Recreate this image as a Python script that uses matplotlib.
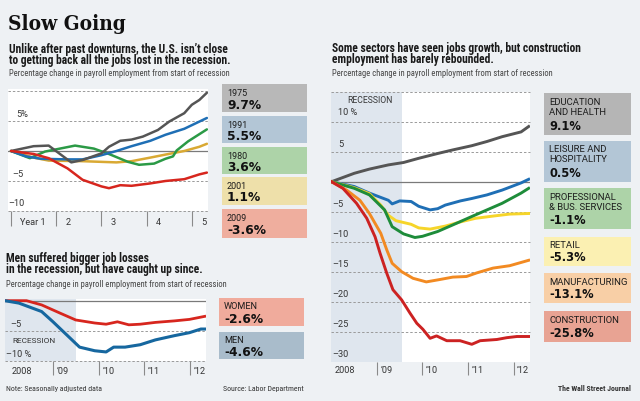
import os
import matplotlib
matplotlib.use('Agg')
import matplotlib.pyplot as plt
import matplotlib.font_manager as fm
import matplotlib.transforms as mtrans
from matplotlib.patches import Rectangle

# ---------------- DATA ----------------
# Top-left: months since start of each recession, % change
m1975 = [0, 6, 10, 16, 19, 24, 26, 29, 32, 35, 39, 42, 46, 48, 50, 52]
v1975 = [0, 0.8, 0.9, -1.9, -1.5, -0.4, 0.7, 1.7, 1.9, 2.4, 3.5, 4.9, 6.3, 7.7, 8.5, 9.7]
m1991 = [0, 4, 8, 15, 19, 24, 28, 32, 37, 41, 46, 50, 52]
v1991 = [0, -0.9, -1.3, -1.4, -1.4, -0.7, 0, 0.8, 1.7, 2.7, 3.7, 4.9, 5.5]
m1980 = [0, 5, 9, 13, 17, 22, 26, 31, 34, 38, 41, 43, 44, 47, 50, 52]
v1980 = [0, -1.2, -0.1, 0.4, 0.9, 0.4, -0.5, -1.8, -2.3, -2.1, -1.3, -0.9, 0.1, 1.6, 2.8, 3.6]
m2001 = [0, 6, 10, 19, 28, 32, 37, 41, 46, 50, 52]
v2001 = [0, -1.1, -1.6, -1.7, -1.9, -1.7, -1.1, -0.6, 0, 0.7, 1.2]
m2009 = [0, 6, 10, 15, 19, 24, 26, 29, 32, 37, 41, 46, 50, 52]
v2009 = [0, -0.5, -1.2, -2.9, -4.8, -5.9, -6.2, -5.7, -5.8, -5.4, -5.0, -4.7, -3.9, -3.6]
tl_years = ['Year 1', '2', '3', '4', '5']
tl_boxes = [('1975', '9.7%'), ('1991', '5.5%'), ('1980', '3.6%'), ('2001', '1.1%'), ('2009', '-3.6%')]

# Bottom-left: months since Jan 2008
mWomen = [-0.7, 5, 9, 14, 18, 23, 26, 29, 32, 35, 39, 44, 48, 52]
vWomen = [0, 0, -0.7, -2.1, -3.2, -3.7, -3.9, -3.5, -4.0, -3.9, -3.6, -3.35, -3.1, -2.6]
mMen = [-0.7, 3, 9, 12, 16, 19, 23, 26, 28, 31, 35, 39, 44, 48, 51, 52]
vMen = [0, -0.4, -1.8, -3.5, -5.9, -7.7, -8.3, -8.5, -7.7, -7.7, -7.3, -6.5, -5.8, -5.3, -4.7, -4.7]
bl_boxes = [('WOMEN', '-2.6%'), ('MEN', '-4.6%')]

# Right: months since Jan 2008
mEdu = [0, 6, 10, 15, 19, 23, 28, 32, 37, 41, 45, 50, 52]
vEdu = [0, 1.4, 2.1, 2.8, 3.2, 3.9, 4.7, 5.3, 6.0, 6.7, 7.5, 8.3, 9.2]
mLei = [0, 6, 10, 15, 16, 18, 21, 23, 26, 28, 30, 34, 37, 41, 45, 50, 52]
vLei = [0, -0.8, -1.9, -3.1, -3.7, -3.2, -3.3, -4.1, -4.7, -4.5, -3.9, -3.2, -2.8, -2.2, -1.4, -0.2, 0.4]
mPro = [0, 6, 10, 14, 16, 19, 22, 24, 28, 32, 37, 41, 45, 50, 52]
vPro = [0, -1.1, -2.2, -4.7, -7.5, -8.7, -9.3, -9.1, -8.3, -7.2, -5.8, -4.7, -3.6, -1.9, -1.1]
mRet = [0, 6, 10, 13, 15, 17, 21, 23, 26, 30, 34, 38, 43, 47, 52]
vRet = [0, -1.0, -2.0, -3.9, -5.6, -6.5, -7.1, -7.7, -7.9, -7.4, -6.7, -6.1, -5.7, -5.4, -5.3]
mMfg = [0, 4, 7.5, 10, 13, 14.6, 16, 18.5, 21.5, 25, 28.6, 32, 35.6, 38.3, 42.6, 47, 52]
vMfg = [0, -1.4, -3.1, -5.3, -8.6, -11.4, -13.6, -15.0, -16.1, -16.7, -16.3, -15.9, -15.8, -15.2, -14.4, -14.0, -13.1]
mCon = [0, 3, 6.6, 9.3, 11.5, 12.8, 14.6, 16.2, 18.5, 20.7, 22.5, 24.1, 26, 27.7, 30.4, 33.9, 37, 39.2, 43.6, 46.2, 48.9, 52]
vCon = [0, -1.1, -3.6, -6.1, -9.2, -11.9, -15.3, -18.0, -19.7, -21.9, -23.6, -24.6, -26.1, -25.7, -26.5, -26.5, -27.1, -26.5, -26.3, -26.0, -25.8, -25.8]
date_labels = ['2008', '\u201909', '\u201910', '\u201911', '\u201912']
r_boxes = [(['EDUCATION', 'AND HEALTH'], '9.1%'), (['LEISURE AND', 'HOSPITALITY'], '0.5%'),
           (['PROFESSIONAL', '& BUS. SERVICES'], '-1.1%'), (['RETAIL'], '-5.3%'),
           (['MANUFACTURING'], '-13.1%'), (['CONSTRUCTION'], '-25.8%')]

# ---------------- STYLE ----------------
W, H = 640, 401
BG = '#eef1f4'
SHADE = '#dfe6ee'
GRID = '#9a9a9a'
ZERO = '#7a7a7a'
TICK = '#8a8a8a'
TXT = '#1a1a1a'
SUB = '#444444'
LBL = '#333333'


def font_file(cands):
    files = {}
    for f in fm.fontManager.ttflist:
        files.setdefault(os.path.splitext(os.path.basename(f.fname))[0].lower(), f.fname)
    for c in cands:
        if c.lower() in files:
            return files[c.lower()]
    return None


def fprop(cands, family, weight):
    p = font_file(cands)
    if p:
        return fm.FontProperties(fname=p)
    return fm.FontProperties(family=family, weight=weight)


F_HEAD = fprop(['RobotoCondensed-Bold', 'LiberationSansNarrow-Bold', 'DejaVuSansCondensed-Bold',
                'Roboto-Bold', 'DejaVuSans-Bold'], 'DejaVu Sans', 'bold')
F_SUBT = fprop(['RobotoCondensed-Regular', 'LiberationSansNarrow-Regular', 'DejaVuSansCondensed',
                'Roboto-Regular', 'DejaVuSans'], 'DejaVu Sans', 'normal')
F_LAB = fprop(['Roboto-Regular', 'OpenSans-Regular', 'DejaVuSans'], 'DejaVu Sans', 'normal')
F_VAL = fprop(['DejaVuSans-Bold'], 'DejaVu Sans', 'bold')
F_SERIF = fprop(['DejaVuSerifCondensed-Bold', 'DejaVuSerif-Bold', 'LiberationSerif-Bold'],
                'DejaVu Serif', 'bold')

fig = plt.figure(figsize=(W / 100, H / 100), dpi=100, facecolor=BG)
renderer = fig.canvas.get_renderer()


def sized(p, s):
    q = p.copy()
    q.set_size(s)
    return q


def fit_size(s, width, prop):
    t = fig.text(0, 0, s, fontproperties=sized(prop, 10))
    w = t.get_window_extent(renderer).width
    t.remove()
    return 10.0 * width / w


def ftext(x, y, s, prop, size, color=TXT, ha='left'):
    fig.text(x / W, 1 - y / H, s, fontproperties=sized(prop, size), color=color,
             ha=ha, va='baseline')


def fit_text(x, y, s, width, prop, color=TXT, ha='left'):
    ftext(x, y, s, prop, fit_size(s, width, prop), color, ha)


def add_ax(x0, y0, x1, y1, xlim, ylim):
    ax = fig.add_axes([x0 / W, 1 - y1 / H, (x1 - x0) / W, (y1 - y0) / H])
    ax.set_facecolor('white')
    for s in ax.spines.values():
        s.set_visible(False)
    ax.set_xlim(*xlim)
    ax.set_ylim(*ylim)
    ax.set_yticks([])
    return ax


def grid(ax, levels):
    for v in levels:
        ax.axhline(v, color=GRID, lw=0.7, ls=(0, (2.5, 2)), zorder=1, clip_on=False)
    ax.axhline(0, color=ZERO, lw=0.9, zorder=1.5)


def atext(ax, trans, x, y, s, dx, dy, prop, size, color=LBL):
    tr = mtrans.offset_copy(trans, fig=fig, x=dx, y=dy, units='dots')
    ax.text(x, y, s, transform=tr, fontproperties=sized(prop, size), color=color,
            ha='left', va='baseline', clip_on=False)


def box(x0, y0, x1, y1, color):
    fig.add_artist(Rectangle((x0 / W, 1 - y1 / H), (x1 - x0) / W, (y1 - y0) / H,
                             transform=fig.transFigure, facecolor=color, edgecolor='none'))


S_TICK = min(6.6, fit_size('2008', 21.5, F_LAB))
S_HEAD = fit_size('Some sectors have seen jobs growth, but construction', 250, F_HEAD)
S_SUBT = fit_size('Percentage change in payroll employment from start of recession', 222, F_SUBT)

# ---------------- HEADINGS ----------------
fit_text(8, 30, 'Slow Going', 118, F_SERIF, '#111111')
ftext(9, 52.5, 'Unlike after past downturns, the U.S. isn\u2019t close', F_HEAD, S_HEAD)
ftext(9, 64, 'to getting back all the jobs lost in the recession.', F_HEAD, S_HEAD)
ftext(9, 75.5, 'Percentage change in payroll employment from start of recession', F_SUBT, S_SUBT, SUB)
ftext(332, 52, 'Some sectors have seen jobs growth, but construction', F_HEAD, S_HEAD)
ftext(332, 63.5, 'employment has barely rebounded.', F_HEAD, S_HEAD)
ftext(332, 76, 'Percentage change in payroll employment from start of recession', F_SUBT, S_SUBT, SUB)
ftext(6, 262, 'Men suffered bigger job losses', F_HEAD, S_HEAD)
ftext(6, 273.5, 'in the recession, but have caught up since.', F_HEAD, S_HEAD)
ftext(6, 287, 'Percentage change in payroll employment from start of recession', F_SUBT, S_SUBT, SUB)
fit_text(6, 391, 'Note: Seasonally adjusted data', 95, F_SUBT, LBL)
fit_text(304, 391, 'Source: Labor Department', 80, F_SUBT, LBL, ha='right')
fit_text(631, 391, 'The Wall Street Journal', 73, F_HEAD, LBL, ha='right')

# ---------------- TOP-LEFT CHART ----------------
ax1 = add_ax(8, 89, 208, 211, (-0.8, 52.3), (-10, 10.33))
grid(ax1, [10, 5, -5, -10])
for m, v, c in [(m2001, v2001, '#d9a933'), (m1980, v1980, '#2b9a46'), (m1991, v1991, '#1f6fb5'),
                (m1975, v1975, '#555555'), (m2009, v2009, '#d7261e')]:
    ax1.plot(m, v, color=c, lw=1.8, zorder=3, solid_joinstyle='round', solid_capstyle='round')
tl_ticks = [0, 12, 24, 36, 48]
ax1.set_xticks(tl_ticks)
ax1.tick_params(axis='x', length=11, width=0.8, color=TICK, labelbottom=False, direction='out')
for t, lab in zip(tl_ticks, tl_years):
    atext(ax1, ax1.get_xaxis_transform(), t, 0, lab, 9, -14, F_LAB, S_TICK)
yt = ax1.get_yaxis_transform()
atext(ax1, yt, 0, 5, '5%', 8, 4, F_LAB, S_TICK)
atext(ax1, yt, 0, -5, '\u20135', 4, 4, F_LAB, S_TICK)
atext(ax1, yt, 0, -10, '\u201310', 0, 5, F_LAB, S_TICK)

S_VAL_L = fit_size('9.7%', 34, F_VAL)
S_LAB_L = fit_size('1975', 20, F_LAB)
tl_spans = [(84, 112), (116, 143), (147, 174), (177, 205), (209, 238)]
tl_cols = ['#b8b8b8', '#b3c6d6', '#add3a8', '#eee0aa', '#efae9e']
for (lab, val), (y0, y1), c in zip(tl_boxes, tl_spans, tl_cols):
    box(222, y0, 307, y1, c)
    ftext(227, y0 + 12, lab, F_LAB, S_LAB_L)
    ftext(227, y0 + 24.5, val, F_VAL, S_VAL_L, '#111111')

# ---------------- BOTTOM-LEFT CHART ----------------
ax2 = add_ax(5, 299, 206, 361.3, (-0.66, 52.35), (-10.05, 0.28))
ax2.axvspan(-1, 18, color=SHADE, zorder=0, lw=0)
grid(ax2, [-5, -10])
ax2.plot(mWomen, vWomen, color='#d7261e', lw=2.0, zorder=3, solid_joinstyle='round')
ax2.plot(mMen, vMen, color='#16679f', lw=2.2, zorder=3, solid_joinstyle='round')
ax2.set_xticks([12, 24, 36, 48])
ax2.tick_params(axis='x', length=10, width=0.8, color=TICK, labelbottom=False, direction='out')
for t, lab in zip([0, 12, 24, 36, 48], date_labels):
    atext(ax2, ax2.get_xaxis_transform(), t, 0, lab, 4, -13, F_LAB, S_TICK)
yt = ax2.get_yaxis_transform()
atext(ax2, yt, 0, -5, '\u20135', 5, 4.3, F_LAB, S_TICK)
atext(ax2, yt, 0, -10, '\u201310 %', 1, 4, F_LAB, S_TICK)
fit_text(12, 342.7, 'RECESSION', 43, F_LAB, LBL)

S_VAL_B = fit_size('-2.6%', 39, F_VAL)
S_LAB_B = fit_size('WOMEN', 34, F_LAB)
for (lab, val), (y0, y1), c, (d1, d2) in zip(bl_boxes, [(298, 326), (332, 359)],
                                            ['#f0ab9c', '#a9bccb'], [(11.3, 25.3), (10.7, 23.7)]):
    box(219, y0, 304, y1, c)
    ftext(224, y0 + d1, lab, F_LAB, S_LAB_B)
    ftext(224, y0 + d2, val, F_VAL, S_VAL_B, '#111111')

# ---------------- RIGHT CHART ----------------
ax3 = add_ax(331, 92, 530, 362, (-0.13, 52.35), (-30.05, 14.95))
ax3.axvspan(-1, 18.5, color=SHADE, zorder=0, lw=0)
grid(ax3, [15, 10, 5, -5, -10, -15, -20, -25])
for m, v, c in [(mEdu, vEdu, '#555555'), (mLei, vLei, '#1f6fb5'), (mRet, vRet, '#f6d52a'),
                (mPro, vPro, '#1e8c3a'), (mMfg, vMfg, '#f28a22'), (mCon, vCon, '#cc2222')]:
    ax3.plot(m, v, color=c, lw=2.1, zorder=3, solid_joinstyle='round')
ax3.set_xticks([12, 24, 36, 48])
ax3.tick_params(axis='x', length=9, width=0.8, color=TICK, labelbottom=False, direction='out')
for t, lab in zip([0, 12, 24, 36, 48], date_labels):
    atext(ax3, ax3.get_xaxis_transform(), t, 0, lab, 3.5, -11, F_LAB, S_TICK)
yt = ax3.get_yaxis_transform()
atext(ax3, yt, 0, 10, '10 %', 7, 7, F_LAB, S_TICK)
atext(ax3, yt, 0, 5, '5', 7, 5, F_LAB, S_TICK)
for v in [-5, -10, -15, -20, -25, -30]:
    atext(ax3, yt, 0, v, '\u2013%d' % abs(v), 1.5, 4.4, F_LAB, S_TICK)
fit_text(347, 103, 'RECESSION', 45, F_LAB, LBL)

S_VAL_R = fit_size('-25.8%', 45, F_VAL)
S_LAB_R = fit_size('MANUFACTURING', 78, F_LAB)
r_spans = [(93, 134.7), (140.7, 182), (188.3, 229), (236.7, 266), (273.3, 303.3), (311, 341.7)]
r_cols = ['#b5b5b5', '#b3c6d6', '#add3a8', '#fbf0b2', '#f8cfa6', '#e8a393']
for (labs, val), (y0, y1), c in zip(r_boxes, r_spans, r_cols):
    box(544, y0, 631, y1, c)
    for i, lab in enumerate(labs):
        ftext(549, y0 + 11.7 + 10 * i, lab, F_LAB, S_LAB_R)
    ftext(549, y1 - 5, val, F_VAL, S_VAL_R, '#111111')

fig.savefig('out.png', dpi=100, facecolor=BG)
